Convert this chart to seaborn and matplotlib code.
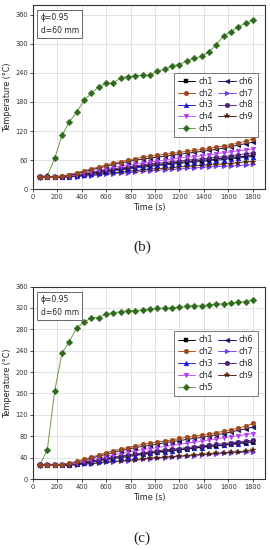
import matplotlib
matplotlib.use("Agg")
import matplotlib.pyplot as plt
import seaborn as sns
import pandas as pd

# ---------------- data ----------------
times = [60, 120, 180, 240, 300, 360, 420, 480, 540, 600, 660, 720, 780, 840, 900,
         960, 1020, 1080, 1140, 1200, 1260, 1320, 1380, 1440, 1500, 1560, 1620, 1680, 1740, 1800]

channels = ["ch1", "ch2", "ch3", "ch4", "ch5", "ch6", "ch7", "ch8", "ch9"]

# panel (b)
b_ch1 = [25, 25, 25, 25, 27, 29, 31, 33, 36, 38, 40, 42, 44, 46, 48, 49, 51, 52, 54, 55, 57, 58, 59, 61, 62, 64, 65, 67, 68, 70]
b_ch2 = [25, 25, 25, 27, 30, 34, 38, 42, 46, 50, 54, 57, 60, 63, 66, 68, 70, 72, 74, 76, 78, 80, 82, 84, 87, 89, 92, 95, 99, 104]
b_ch3 = [25, 25, 25, 25, 26, 28, 30, 32, 34, 36, 38, 40, 42, 44, 45, 47, 49, 50, 52, 53, 55, 56, 57, 59, 60, 61, 63, 64, 66, 67]
b_ch4 = [25, 25, 25, 26, 28, 30, 33, 36, 39, 42, 45, 48, 50, 52, 54, 56, 58, 60, 62, 64, 66, 67, 69, 71, 73, 75, 77, 79, 81, 83]
b_ch5 = [25, 27, 64, 111, 139, 159, 183, 198, 211, 218, 219, 230, 232, 234, 235, 235, 244, 247, 255, 257, 265, 270, 274, 283, 298, 316, 325, 335, 342, 348]
b_ch6 = [25, 25, 25, 26, 29, 32, 36, 40, 44, 47, 51, 54, 57, 60, 62, 64, 66, 68, 70, 72, 74, 76, 78, 80, 82, 85, 88, 91, 94, 97]
b_ch7 = [25, 25, 25, 25, 25, 26, 27, 28, 29, 31, 32, 33, 34, 35, 37, 38, 39, 40, 41, 42, 43, 44, 45, 46, 47, 47, 48, 49, 50, 51]
b_ch8 = [25, 25, 25, 26, 27, 29, 32, 35, 37, 40, 42, 44, 46, 48, 50, 52, 54, 55, 57, 58, 60, 61, 63, 64, 66, 67, 69, 71, 73, 75]
b_ch9 = [25, 25, 25, 25, 26, 27, 28, 30, 31, 33, 34, 35, 37, 38, 40, 41, 42, 43, 44, 46, 47, 48, 49, 50, 51, 52, 53, 55, 56, 57]

# panel (c)
c_ch1 = [26, 26, 26, 26, 27, 29, 31, 33, 35, 38, 40, 42, 44, 46, 47, 49, 51, 52, 54, 55, 57, 58, 60, 61, 62, 64, 65, 67, 68, 70]
c_ch2 = [26, 26, 26, 27, 30, 33, 37, 41, 45, 49, 53, 56, 59, 62, 65, 67, 69, 71, 73, 76, 78, 80, 82, 84, 87, 89, 92, 95, 99, 104]
c_ch3 = [26, 26, 26, 26, 27, 28, 30, 32, 34, 36, 38, 40, 42, 44, 46, 48, 50, 51, 53, 55, 56, 58, 59, 61, 62, 64, 65, 66, 68, 69]
c_ch4 = [26, 26, 26, 26, 28, 30, 33, 36, 39, 42, 45, 48, 51, 53, 55, 57, 59, 61, 63, 65, 67, 69, 71, 73, 75, 77, 79, 81, 83, 85]
c_ch5 = [27, 55, 165, 236, 257, 283, 293, 302, 302, 309, 311, 313, 315, 315, 316, 318, 319, 320, 320, 322, 323, 324, 324, 326, 327, 328, 329, 331, 332, 335]
c_ch6 = [26, 26, 26, 26, 29, 32, 36, 39, 43, 46, 50, 53, 56, 59, 61, 63, 65, 68, 70, 72, 74, 76, 78, 80, 83, 85, 88, 91, 94, 97]
c_ch7 = [26, 26, 26, 26, 26, 27, 28, 29, 30, 31, 32, 33, 34, 35, 37, 38, 39, 40, 41, 42, 43, 44, 45, 46, 47, 48, 49, 50, 50, 51]
c_ch8 = [26, 26, 26, 26, 27, 29, 31, 34, 36, 39, 41, 43, 45, 47, 49, 51, 53, 54, 56, 57, 59, 60, 62, 63, 65, 66, 68, 69, 71, 73]
c_ch9 = [26, 26, 26, 26, 26, 27, 28, 29, 30, 32, 33, 34, 35, 36, 38, 39, 40, 41, 42, 43, 44, 45, 46, 47, 48, 49, 50, 51, 52, 54]

b_series = [b_ch1, b_ch2, b_ch3, b_ch4, b_ch5, b_ch6, b_ch7, b_ch8, b_ch9]
c_series = [c_ch1, c_ch2, c_ch3, c_ch4, c_ch5, c_ch6, c_ch7, c_ch8, c_ch9]

b_yticks = [0, 60, 120, 180, 240, 300, 360]
c_yticks = [0, 40, 80, 120, 160, 200, 240, 280, 320, 360]
xticks = [0, 200, 400, 600, 800, 1000, 1200, 1400, 1600, 1800]

# ---------------- style ----------------
line_colors = {"ch1": "#000000", "ch2": "#b0521e", "ch3": "#1f1fe6", "ch4": "#c05cf0",
               "ch5": "#6a9c46", "ch6": "#14146e", "ch7": "#7b4df5", "ch8": "#5a2a8a", "ch9": "#5a2a12"}
marker_colors = {"ch1": "#000000", "ch2": "#9a4a1c", "ch3": "#1515e0", "ch4": "#b03cf0",
                 "ch5": "#2f6a1c", "ch6": "#10105a", "ch7": "#6a36f0", "ch8": "#4a1f78", "ch9": "#4a200c"}
markers = {"ch1": "s", "ch2": "o", "ch3": "^", "ch4": "v", "ch5": "D",
           "ch6": "<", "ch7": ">", "ch8": "o", "ch9": "*"}
msizes = {"ch1": 3.0, "ch2": 3.4, "ch3": 3.4, "ch4": 3.4, "ch5": 3.4,
          "ch6": 3.4, "ch7": 3.4, "ch8": 3.4, "ch9": 4.2}

sns.set_theme(style="whitegrid")
plt.rcParams["font.family"] = ["DejaVu Sans"]

fig = plt.figure(figsize=(2.7, 5.5), dpi=100)
ax_b = fig.add_axes([0.121, 0.656, 0.861, 0.335])
ax_c = fig.add_axes([0.121, 0.129, 0.861, 0.350])


def draw(ax, series, yticks, ymax, leg_y):
    draw_order = ["ch5", "ch7", "ch9", "ch3", "ch1", "ch8", "ch4", "ch6", "ch2"]
    for ch in draw_order:
        vals = series[channels.index(ch)]
        df = pd.DataFrame({"Time": times, "T": vals})
        sns.lineplot(data=df, x="Time", y="T", ax=ax, color=line_colors[ch],
                     marker=markers[ch], markersize=msizes[ch],
                     markerfacecolor=marker_colors[ch], markeredgecolor=marker_colors[ch],
                     markeredgewidth=0.3, linewidth=0.7, label=ch, legend=False)
    ax.set_xlim(0, 1900)
    ax.set_ylim(0, ymax)
    ax.set_xticks(xticks)
    ax.set_yticks(yticks)
    ax.tick_params(axis="both", labelsize=4.8, length=2, width=0.6, pad=1.5,
                   direction="out", left=True, bottom=True, colors="#333333")
    ax.grid(True, color="#dddddd", linewidth=0.6)
    for s in ax.spines.values():
        s.set_color("#333333")
        s.set_linewidth(0.8)
    ax.set_xlabel("Time (s)", fontsize=5.8, labelpad=2)
    ax.set_ylabel("Temperature (°C)", fontsize=5.8, labelpad=2)
    ax.text(0.035, 0.955, "ϕ=0.95\nd=60 mm", transform=ax.transAxes, va="top", ha="left",
            fontsize=5.5, linespacing=1.5,
            bbox=dict(boxstyle="square,pad=0.45", fc="white", ec="#666666", lw=0.7))
    hmap = {h.get_label(): h for h in ax.get_lines()}
    handles = [hmap[ch] for ch in channels]
    leg = ax.legend(handles, channels, ncol=2, loc="center right",
                    bbox_to_anchor=(0.985, leg_y),
                    fontsize=5.8, frameon=True, fancybox=False, edgecolor="#555555",
                    handlelength=2.2, handletextpad=0.4, columnspacing=0.6,
                    labelspacing=0.35, borderpad=0.5, markerscale=1.0)
    leg.get_frame().set_linewidth(0.7)
    return leg


draw(ax_b, b_series, b_yticks, 380, 0.457)
draw(ax_c, c_series, c_yticks, 360, 0.60)

fig.text(0.526, 0.551, "(b)", ha="center", va="center", fontsize=11, family="Liberation Serif")
fig.text(0.526, 0.022, "(c)", ha="center", va="center", fontsize=11, family="Liberation Serif")

fig.savefig("out.png", dpi=100, facecolor="white")
